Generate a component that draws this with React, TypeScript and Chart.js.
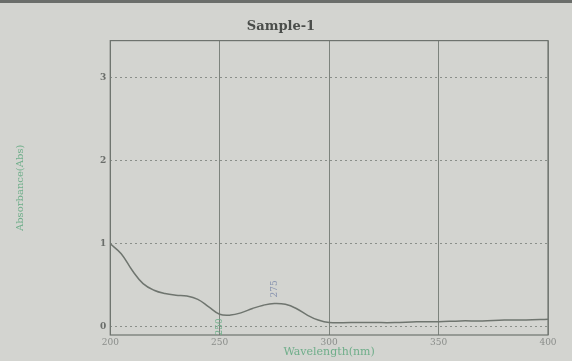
import React, { useEffect, useRef } from "react";
import { Chart, registerables } from "chart.js";

Chart.register(...registerables);

const wavelengths = [200, 205, 210, 215, 220, 225, 230, 235, 240, 245, 250, 255, 260, 265, 270, 275, 280, 285, 290, 295, 300, 310, 320, 330, 340, 350, 360, 370, 380, 390, 400];
const absorbance = [1.0, 0.88, 0.68, 0.52, 0.44, 0.4, 0.38, 0.37, 0.33, 0.24, 0.15, 0.14, 0.17, 0.22, 0.26, 0.28, 0.27, 0.22, 0.14, 0.08, 0.05, 0.05, 0.05, 0.05, 0.06, 0.06, 0.07, 0.07, 0.08, 0.08, 0.09];
const xTicks = [200, 250, 300, 350, 400];
const yTicks = [0, 1, 2, 3];
const peakLabels = [{ x: 275, y: 0.28, text: "275", color: "#8a95b0" }];
const valleyLabels = [{ x: 250, y: 0.15, text: "250", color: "#6fae8a" }];

const frame = {
  id: "frame",
  afterDraw(chart: any) {
    const { ctx, chartArea: a, scales } = chart;
    ctx.save();
    ctx.strokeStyle = "#6e736e";
    ctx.lineWidth = 1.2;
    ctx.strokeRect(a.left, a.top, a.right - a.left, a.bottom - a.top);
    ctx.font = "9px 'DejaVu Serif'";
    peakLabels.forEach((p) => {
      const px = scales.x.getPixelForValue(p.x);
      const py = scales.y.getPixelForValue(p.y);
      ctx.save();
      ctx.translate(px, py - 6);
      ctx.rotate(-Math.PI / 2);
      ctx.fillStyle = p.color;
      ctx.textAlign = "left";
      ctx.textBaseline = "middle";
      ctx.fillText(p.text, 0, 0);
      ctx.restore();
    });
    valleyLabels.forEach((p) => {
      const px = scales.x.getPixelForValue(p.x);
      const py = scales.y.getPixelForValue(p.y);
      ctx.save();
      ctx.translate(px, py + 4);
      ctx.rotate(-Math.PI / 2);
      ctx.fillStyle = p.color;
      ctx.textAlign = "right";
      ctx.textBaseline = "middle";
      ctx.fillText(p.text, 0, 0);
      ctx.restore();
    });
    ctx.restore();
  },
};

export default function App() {
  const ref = useRef<HTMLCanvasElement>(null);
  useEffect(() => {
    document.body.style.margin = "0";
    const chart = new Chart(ref.current!, {
      type: "line",
      data: {
        datasets: [
          {
            data: wavelengths.map((w, i) => ({ x: w, y: absorbance[i] })),
            borderColor: "#6f756f",
            borderWidth: 1.5,
            pointRadius: 0,
            tension: 0.4,
            fill: false,
          },
        ],
      },
      options: {
        animation: false,
        responsive: false,
        layout: { padding: { left: 14, right: 24, top: 4, bottom: 0 } },
        plugins: {
          legend: { display: false },
          tooltip: { enabled: false },
          title: {
            display: true,
            text: "Sample-1",
            color: "#4a4d4a",
            font: { family: "'DejaVu Serif'", size: 13, weight: "bold" },
            padding: { top: 12, bottom: 6 },
          },
        },
        scales: {
          x: {
            type: "linear",
            min: 200,
            max: 400,
            afterBuildTicks: (s: any) => {
              s.ticks = xTicks.map((v) => ({ value: v }));
            },
            ticks: { color: "#8a8d8a", font: { family: "'DejaVu Serif'", size: 9 }, padding: 2, maxRotation: 0 },
            grid: { color: "#7d837d", lineWidth: 1, drawTicks: false },
            border: { display: false },
            title: {
              display: true,
              text: "Wavelength(nm)",
              color: "#6fae8a",
              font: { family: "'DejaVu Serif'", size: 11 },
              padding: { top: -4, bottom: 2 },
            },
          },
          y: {
            type: "linear",
            min: -0.1,
            max: 3.45,
            afterBuildTicks: (s: any) => {
              s.ticks = yTicks.map((v) => ({ value: v }));
            },
            ticks: { color: "#6a6d6a", font: { family: "'DejaVu Serif'", size: 9, weight: "bold" }, padding: 4 },
            grid: { color: "#8a8f8a", lineWidth: 1, drawTicks: false, borderDash: [2, 3] } as any,
            border: { display: false, dash: [2, 3] },
            title: {
              display: true,
              text: "Absorbance(Abs)",
              color: "#6fae8a",
              font: { family: "'DejaVu Serif'", size: 10 },
              padding: { top: 0, bottom: 70 },
            },
          },
        },
      },
      plugins: [frame],
    });
    return () => chart.destroy();
  }, []);
  return (
    <div style={{ position: "absolute", left: 0, top: 0, width: 572, height: 361, background: "#d3d4d0", borderTop: "3px solid #6b6e6b", boxSizing: "border-box" }}>
      <canvas ref={ref} width={572} height={358} />
    </div>
  );
}
